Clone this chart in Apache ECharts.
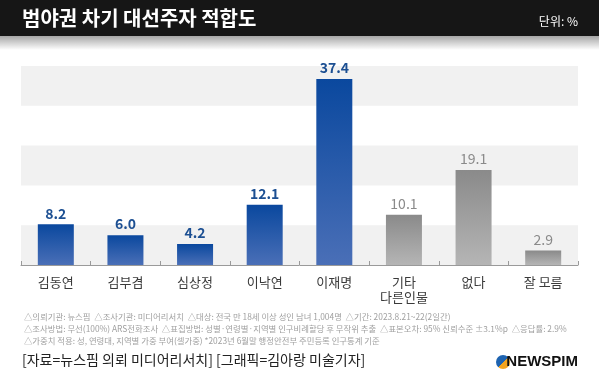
<!DOCTYPE html>
<html><head><meta charset="utf-8">
<script src="https://cdn.jsdelivr.net/npm/echarts@6/dist/echarts.min.js"></script>
<style>html,body{margin:0;padding:0;background:#fff}#c{width:599px;height:390px}</style>
</head><body><div id="c"></div>
<script>
const categories = ['김동연', '김부겸', '심상정', '이낙연', '이재명', '기타\n다른인물', '없다', '잘 모름'];
const values = [8.2, 6.0, 4.2, 12.1, 37.4, 10.1, 19.1, 2.9];
const isCandidate = [true, true, true, true, true, false, false, false];
const yTicks = [0, 8, 16, 24, 32, 40];
const titleText = '범야권 차기 대선주자 적합도';
const unitText = '단위: %';
const notes = [
  '△의뢰기관: 뉴스핌  △조사기관: 미디어리서치  △대상: 전국 만 18세 이상 성인 남녀 1,004명  △기간: 2023.8.21~22(2일간)',
  '△조사방법: 무선(100%) ARS전화조사  △표집방법: 성별·연령별·지역별 인구비례할당 후 무작위 추출  △표본오차: 95% 신뢰수준 ±3.1%p  △응답률: 2.9%',
  '△가중치 적용: 성, 연령대, 지역별 가중 부여(셀가중) *2023년 6월말 행정안전부 주민등록 인구통계 기준'
];
const sourceText = '[자료=뉴스핌 의뢰 미디어리서치] [그래픽=김아랑 미술기자]';
const logoText = 'NEWSPIM';

const FONT = '"Noto Sans CJK KR", "Noto Sans", sans-serif';
const blueGrad = new echarts.graphic.LinearGradient(0, 0, 0, 1, [
  {offset: 0, color: '#0a489e'}, {offset: 1, color: '#4a6fb7'}]);
const grayGrad = new echarts.graphic.LinearGradient(0, 0, 0, 1, [
  {offset: 0, color: '#8a8a8a'}, {offset: 1, color: '#b5b5b5'}]);

// shaded bands on every other interval, starting from the bottom
const bands = [];
for (let i = 0; i < yTicks.length - 1; i += 2) {
  bands.push([{yAxis: yTicks[i]}, {yAxis: yTicks[i + 1]}]);
}

const chart = echarts.init(document.getElementById('c'), null, {renderer: 'canvas'});
chart.setOption({
  backgroundColor: '#fff',
  animation: false,
  grid: {left: 21, right: 21, top: 66, bottom: 125},
  xAxis: {
    type: 'category', data: categories,
    axisLine: {lineStyle: {color: '#9a9a9a', width: 1}},
    axisTick: {show: true, inside: true, length: 4, lineStyle: {color: '#9a9a9a'}},
    axisLabel: {color: '#3a3a3a', fontSize: 13, fontFamily: FONT, margin: 10, lineHeight: 15}
  },
  yAxis: {
    type: 'value', min: yTicks[0], max: yTicks[yTicks.length - 1], interval: yTicks[1] - yTicks[0],
    axisLabel: {show: false}, axisLine: {show: false}, axisTick: {show: false},
    splitLine: {show: false}, splitArea: {show: false}
  },
  series: [{
    type: 'bar', barWidth: 36,
    data: values.map((v, i) => ({
      value: v,
      itemStyle: {color: isCandidate[i] ? blueGrad : grayGrad},
      label: {color: isCandidate[i] ? '#1c4f92' : '#8a8a8a', fontWeight: isCandidate[i] ? 'bold' : 'normal'}
    })),
    label: {show: true, position: 'top', distance: 4, fontSize: 14, fontFamily: FONT,
      formatter: p => p.value.toFixed(1)},
    markArea: {silent: true, z: -1, itemStyle: {color: '#f1f1f1'}, label: {show: false}, data: bands}
  }],
  graphic: [
    {type: 'rect', left: 0, top: 0, shape: {width: 599, height: 36}, style: {fill: '#161616'}, z: 10},
    {type: 'rect', left: 0, top: 36, shape: {width: 599, height: 14},
      style: {fill: new echarts.graphic.LinearGradient(0, 0, 0, 1, [
        {offset: 0, color: 'rgba(0,0,0,0.35)'}, {offset: 1, color: 'rgba(0,0,0,0)'}])}, z: 10},
    {type: 'text', left: 22, top: 8, style: {text: titleText, fill: '#ffffff', font: 'bold 20px ' + FONT}, z: 11},
    {type: 'text', right: 21, top: 15, style: {text: unitText, fill: '#ffffff', font: '12px ' + FONT}, z: 11},
    {type: 'text', left: 24, top: 313, style: {text: notes[0], fill: '#a0a0a0', font: '8.4px ' + FONT}, z: 11},
    {type: 'text', left: 24, top: 325, style: {text: notes[1], fill: '#a0a0a0', font: '8.4px ' + FONT}, z: 11},
    {type: 'text', left: 24, top: 337, style: {text: notes[2], fill: '#a0a0a0', font: '8.4px ' + FONT}, z: 11},
    {type: 'text', left: 22, top: 353, style: {text: sourceText, fill: '#222222', font: '14px ' + FONT}, z: 11},
    {type: 'circle', shape: {cx: 503, cy: 362, r: 7},
      style: {fill: new echarts.graphic.LinearGradient(0, 0, 1, 1, [
        {offset: 0, color: '#1e63b0'}, {offset: 0.5, color: '#1e63b0'}, {offset: 0.5, color: '#f3a41e'}, {offset: 1, color: '#f3a41e'}])}, z: 11},
    {type: 'text', right: 21, top: 354, style: {text: logoText, fill: '#111111', font: 'bold 15px "Liberation Sans", Arial, sans-serif'}, z: 11}
  ]
});
</script></body></html>
